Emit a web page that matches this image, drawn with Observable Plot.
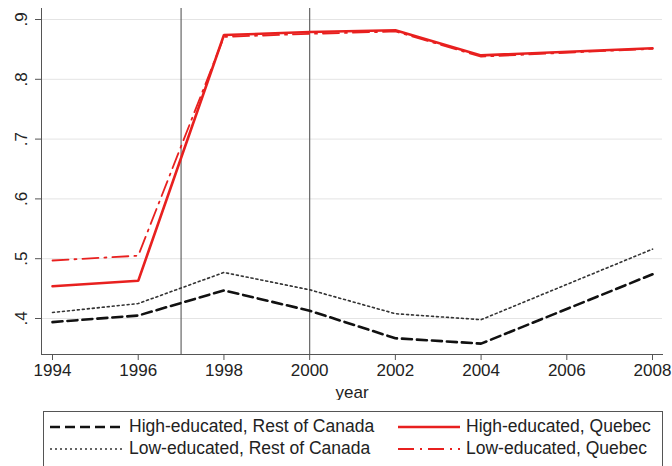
<!DOCTYPE html>
<html>
<head>
<meta charset="utf-8">
<script src="https://cdn.jsdelivr.net/npm/d3@7"></script>
<script src="https://cdn.jsdelivr.net/npm/@observablehq/plot@0.6"></script>
<style>
  html, body { margin: 0; padding: 0; background: #fff; }
  body { width: 672px; height: 466px; position: relative; overflow: hidden;
         font-family: "Liberation Sans", Arial, Helvetica, sans-serif; color: #222; }
  #chart { position: absolute; left: 0; top: 0; }
  #legend { position: absolute; left: 43px; top: 411px; width: 620px; height: 64px;
            border: 1px solid #555; box-sizing: border-box; }
  .item { position: absolute; display: flex; align-items: center; font-size: 17.5px; white-space: nowrap; }
  .item svg { margin-right: 6px; }
</style>
</head>
<body>
<div id="chart"></div>
<div id="legend"></div>
<script>
// Survey years
const years = [1994, 1996, 1998, 2000, 2002, 2004, 2008];

// Share by group and year
const highRestOfCanada = [0.394, 0.405, 0.447, 0.413, 0.367, 0.358, 0.474];
const lowRestOfCanada  = [0.410, 0.425, 0.477, 0.448, 0.408, 0.398, 0.516];
const highQuebec       = [0.454, 0.463, 0.874, 0.879, 0.882, 0.840, 0.852];
const lowQuebec        = [0.497, 0.505, 0.871, 0.876, 0.880, 0.838, 0.851];

// Reference years marked with vertical lines
const markerYears = [1997, 2000];

// Axis ticks
const xTicks = [1994, 1996, 1998, 2000, 2002, 2004, 2006, 2008];
const yTicks = [0.4, 0.5, 0.6, 0.7, 0.8, 0.9];

const series = [
  {name: "High-educated, Rest of Canada", values: highRestOfCanada, stroke: "#111", width: 2.6, dash: "10,5"},
  {name: "Low-educated, Rest of Canada",  values: lowRestOfCanada,  stroke: "#333", width: 1.6, dash: "2,3"},
  {name: "High-educated, Quebec",         values: highQuebec,       stroke: "#e8201f", width: 2.6, dash: null},
  {name: "Low-educated, Quebec",          values: lowQuebec,        stroke: "#e8201f", width: 1.8, dash: "16,6,2,6"}
];

const rows = series.map(s => years.map((year, i) => ({year, value: s.values[i], name: s.name})));

const fmt = d => String(d).replace(/^0/, "");

const chart = Plot.plot({
  width: 672,
  height: 400,
  marginLeft: 41,
  marginRight: 10,
  marginTop: 8,
  marginBottom: 46,
  style: {fontFamily: "Liberation Sans, Arial, Helvetica, sans-serif", fontSize: "17px", color: "#222", background: "#fff"},
  x: {domain: [1993.743, 2008.233]},
  y: {domain: [0.3398, 0.9184]},
  marks: [
    Plot.gridY(yTicks, {stroke: "#e4e4e4", strokeOpacity: 1, strokeWidth: 1}),
    Plot.ruleX(markerYears, {stroke: "#666", strokeWidth: 1.2}),
    ...series.map((s, k) => Plot.lineY(rows[k], {
      x: "year", y: "value",
      stroke: s.stroke, strokeWidth: s.width,
      strokeDasharray: s.dash ?? undefined,
      strokeLinejoin: "miter"
    })),
    Plot.frame({anchor: "left", stroke: "#555"}),
    Plot.frame({anchor: "bottom", stroke: "#555"}),
    Plot.axisX(xTicks, {
      tickFormat: d => String(d), tickSize: 6, tickPadding: 3, stroke: "#555",
      fontSize: 17, label: "year", labelAnchor: "center", labelArrow: "none", labelOffset: 43
    }),
    Plot.axisY(yTicks, {
      tickFormat: fmt, tickSize: 6, tickPadding: 9, tickRotate: -90, stroke: "#555",
      fontSize: 17, label: null
    })
  ]
});
document.getElementById("chart").append(chart);

// Legend below the plot
const legend = document.getElementById("legend");
const slots = [
  {left: 6, top: 4},
  {left: 6, top: 26},
  {left: 354, top: 4},
  {left: 354, top: 26}
];
series.forEach((s, k) => {
  const item = document.createElement("div");
  item.className = "item";
  item.style.left = slots[k].left + "px";
  item.style.top = slots[k].top + "px";
  const keyWidth = k < 2 ? 73 : 62;
  const svg = d3.create("svg").attr("width", keyWidth).attr("height", 20);
  svg.append("line")
    .attr("x1", 0).attr("x2", keyWidth).attr("y1", 10).attr("y2", 10)
    .attr("stroke", s.stroke).attr("stroke-width", s.width)
    .attr("stroke-dasharray", s.dash);
  item.append(svg.node());
  const label = document.createElement("span");
  label.textContent = s.name;
  item.append(label);
  legend.append(item);
});
</script>
</body>
</html>
